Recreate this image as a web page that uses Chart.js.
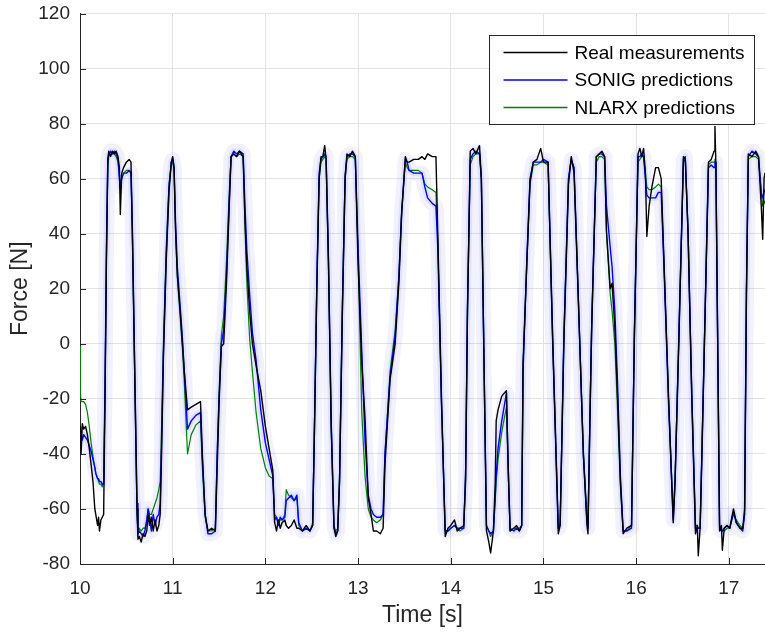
<!DOCTYPE html>
<html>
<head>
<meta charset="utf-8">
<script src="https://cdn.jsdelivr.net/npm/chart.js@4.4.1/dist/chart.umd.min.js"></script>
<style>
  html, body { margin: 0; padding: 0; background: #fff; }
  #wrap { width: 765px; height: 634px; position: relative; }
</style>
</head>
<body>
<div id="wrap"><canvas id="force"></canvas></div>
<script>
// time axis [s], shared by the three traces
var time = [
  10.000, 10.005, 10.012, 10.025, 10.040, 10.060, 10.080, 10.100, 10.120, 10.140,
  10.160, 10.170, 10.190, 10.200, 10.210, 10.225, 10.240, 10.255, 10.270, 10.285,
  10.300, 10.310, 10.330, 10.350, 10.370, 10.390, 10.410, 10.425, 10.435, 10.450,
  10.470, 10.500, 10.530, 10.550, 10.565, 10.590, 10.615, 10.625, 10.640, 10.660,
  10.680, 10.700, 10.720, 10.735, 10.750, 10.770, 10.790, 10.810, 10.830, 10.850,
  10.865, 10.880, 10.900, 10.930, 10.960, 10.985, 11.000, 11.015, 11.030, 11.050,
  11.080, 11.105, 11.125, 11.160, 11.200, 11.250, 11.300, 11.320, 11.350, 11.380,
  11.420, 11.460, 11.480, 11.500, 11.525, 11.550, 11.580, 11.610, 11.630, 11.660,
  11.690, 11.720, 11.760, 11.780, 11.800, 11.830, 11.860, 11.900, 11.950, 12.000,
  12.040, 12.080, 12.100, 12.120, 12.140, 12.160, 12.180, 12.210, 12.225, 12.250,
  12.280, 12.310, 12.340, 12.360, 12.400, 12.440, 12.480, 12.510, 12.530, 12.555,
  12.580, 12.600, 12.620, 12.640, 12.655, 12.680, 12.710, 12.740, 12.760, 12.780,
  12.800, 12.830, 12.860, 12.880, 12.910, 12.940, 12.970, 13.000, 13.040, 13.075,
  13.110, 13.140, 13.165, 13.200, 13.240, 13.270, 13.290, 13.345, 13.400, 13.440,
  13.470, 13.510, 13.530, 13.550, 13.600, 13.650, 13.690, 13.720, 13.750, 13.800,
  13.840, 13.860, 13.900, 13.940, 13.970, 14.000, 14.040, 14.070, 14.100, 14.140,
  14.160, 14.180, 14.210, 14.240, 14.270, 14.310, 14.330, 14.360, 14.385, 14.410,
  14.430, 14.460, 14.480, 14.490, 14.510, 14.550, 14.600, 14.620, 14.640, 14.680,
  14.710, 14.740, 14.765, 14.780, 14.820, 14.855, 14.890, 14.930, 14.970, 15.000,
  15.050, 15.100, 15.160, 15.180, 15.220, 15.270, 15.300, 15.330, 15.375, 15.430,
  15.470, 15.480, 15.500, 15.520, 15.570, 15.600, 15.630, 15.660, 15.680, 15.720,
  15.740, 15.770, 15.800, 15.830, 15.860, 15.900, 15.950, 15.980, 16.020, 16.040,
  16.060, 16.080, 16.100, 16.115, 16.140, 16.170, 16.210, 16.240, 16.270, 16.300,
  16.350, 16.400, 16.420, 16.460, 16.510, 16.530, 16.560, 16.600, 16.640, 16.660,
  16.670, 16.690, 16.710, 16.780, 16.810, 16.840, 16.850, 16.860, 16.900, 16.920,
  16.930, 16.950, 16.980, 17.010, 17.050, 17.080, 17.120, 17.150, 17.170, 17.190,
  17.210, 17.250, 17.290, 17.320, 17.350, 17.365, 17.380, 17.390
];

// Real measurements [N]
var realForce = [
  -38, -30, -40, -29, -31, -30, -33, -38, -44, -50,
  -60, -62, -66, -63, -68, -64, -63, -62, -20, 30,
  66, 70, 68, 70, 69, 70, 68, 64, 47, 62,
  64, 66, 67, 66, 40, -10, -60, -71, -70, -72,
  -69, -70, -68, -62, -66, -63, -68, -64, -68, -66,
  -62, -40, -5, 30, 55, 66, 68, 64, 42, 25,
  12, 0, -10, -24, -23, -22, -21, -40, -62, -68,
  -67, -68, -45, -22, -1, 0, 22, 50, 68, 69,
  68, 70, 68, 45, 28, 12, 0, -8, -17, -30,
  -38, -46, -65, -68, -64, -67, -65, -64, -66, -67,
  -66, -64, -67, -67, -68, -66, -68, -66, -30, 20,
  60, 68, 68, 72, 67, 30, -30, -67, -70, -68,
  -50, 10, 60, 69, 68, 70, 68, 29, -7, -27,
  -56, -62, -68, -68, -69, -67, -44, -13, 0, 22,
  47, 68, 66, 66, 67, 67, 68, 67, 69, 68,
  68, 40, -20, -70, -67, -66, -64, -68, -67, -66,
  -50, 10, 70, 71, 69, 72, 60, -10, -68, -72,
  -76, -68, -50, -28, -24, -19, -17, -45, -68, -67,
  -66, -68, -66, -7, 29, 59, 66, 67, 71, 66,
  66, 0, -69, -66, 0, 58, 68, 62, 17, -40,
  -66, -69, -30, 5, 68, 69, 70, 68, 41, 20,
  22, 6, -20, -50, -69, -67, -66, 0, 69, 71,
  68, 71, 62, 39, 50, 57, 64, 64, 60, 30,
  -20, -65, -50, 0, 68, 67, 40, -20, -69, -66,
  -77, -67, -40, 66, 67, 70, 79, 65, -68, -66,
  -75, -67, -66, -67, -60, -65, -67, -67, -60, 20,
  69, 68, 70, 68, 50, 38, 60, 62
];

// SONIG predictions [N]
var sonigForce = [
  -34, -36, -33, -35, -33, -34, -35, -37, -39, -42,
  -45, -47, -49, -49, -50, -50, -51, -51, -15, 35,
  67, 69, 70, 69, 70, 69, 67, 60, 57, 60,
  62, 62, 63, 62, 42, -8, -58, -69, -68, -69,
  -70, -68, -64, -60, -63, -68, -62, -66, -63, -62,
  -58, -36, -3, 32, 57, 66, 67, 64, 45, 28,
  14, 2, -10, -31, -28, -26, -25, -42, -62, -69,
  -69, -68, -40, -20, 0, 5, 25, 52, 68, 70,
  69, 70, 69, 50, 34, 18, 4, -6, -24, -36,
  -42, -48, -64, -63, -66, -63, -64, -63, -57, -56,
  -55, -57, -55, -65, -68, -67, -68, -66, -30, 22,
  62, 67, 68, 69, 68, 32, -28, -66, -69, -68,
  -50, 12, 60, 68, 69, 69, 68, 35, -3, -35,
  -55, -60, -62, -63, -63, -62, -40, -12, 3, 24,
  48, 67, 66, 63, 62, 62, 62, 57, 53, 51,
  50, 35, -22, -68, -68, -67, -66, -67, -67, -67,
  -48, 12, 67, 69, 70, 69, 60, -10, -66, -68,
  -69, -68, -55, -48, -38, -28, -18, -45, -67, -68,
  -67, -68, -66, -10, 30, 60, 66, 66, 66, 67,
  66, 2, -67, -66, 2, 60, 67, 64, 18, -40,
  -65, -67, -30, 6, 68, 69, 69, 68, 50, 35,
  28, 12, -15, -48, -68, -68, -67, 2, 68, 68,
  69, 68, 60, 54, 53, 53, 53, 55, 55, 28,
  -22, -64, -50, 2, 67, 68, 40, -18, -67, -67,
  -67, -67, -38, 64, 65, 64, 66, 66, -66, -68,
  -68, -67, -66, -67, -61, -65, -67, -68, -62, 18,
  68, 70, 69, 68, 55, 53, 55, 56
];

// NLARX predictions [N]
var nlarxForce = [
  -1, -18, -21, -21, -21, -22, -25, -30, -36, -41,
  -45, -47, -49, -50, -51, -51, -52, -50, -18, 30,
  64, 68, 69, 69, 69, 68, 66, 62, 58, 60,
  62, 63, 63, 62, 40, -12, -62, -68, -67, -68,
  -67, -67, -65, -60, -62, -62, -60, -58, -56, -53,
  -50, -30, 0, 35, 58, 65, 66, 63, 42, 24,
  10, -2, -14, -40, -33, -29.5, -28, -45, -63, -68,
  -68, -67, -40, -18, 3, 10, 30, 55, 68, 69,
  68, 69, 68, 42, 22, 2, -10, -25, -38, -45,
  -48, -49, -62, -63, -65, -64, -64, -62, -53, -55,
  -56, -57, -56, -66, -68, -67, -68, -65, -28, 22,
  60, 66, 67, 68, 67, 30, -30, -67, -68, -67,
  -48, 14, 62, 67, 68, 68, 67, 32, -25, -48,
  -60, -63, -64, -65, -64, -62, -40, -10, 5, 25,
  48, 66, 64, 63, 63, 63, 62, 58, 57, 56,
  55, 38, -22, -68, -68, -67, -66, -67, -68, -67,
  -45, 15, 65, 68, 69, 69, 60, -10, -66, -68,
  -70, -68, -57, -50, -42, -32, -23, -48, -68, -67,
  -67, -67, -66, -8, 28, 58, 65, 65, 66, 66,
  65, 0, -67, -65, 3, 60, 67, 64, 18, -38,
  -64, -65, -28, 8, 66, 68, 68, 67, 40, 18,
  12, 0, -25, -52, -68, -68, -66, 4, 66, 67,
  68, 68, 62, 57, 56, 56, 57, 58, 57, 30,
  -20, -63, -48, 2, 66, 67, 42, -18, -66, -66,
  -67, -67, -38, 65, 66, 66, 67, 66, -67, -68,
  -68, -68, -67, -67, -62, -64, -66, -67, -62, 20,
  67, 68, 68, 67, 55, 50, 51, 52
];

var xTicks = [10, 11, 12, 13, 14, 15, 16, 17];

function pts(vals) {
  return time.map(function (t, i) { return { x: t, y: vals[i] }; });
}

var fontFam = '"Liberation Sans", Arial, Helvetica, sans-serif';
var axisCol = '#262626';

// small inward tick marks like the original axes
var innerTicks = {
  id: 'innerTicks',
  afterDraw: function (chart) {
    var c = chart.ctx, a = chart.chartArea;
    var sx = chart.scales.x, sy = chart.scales.y;
    c.save();
    c.strokeStyle = axisCol;
    c.lineWidth = 1;
    c.beginPath();
    sx.ticks.forEach(function (t) {
      var px = Math.round(sx.getPixelForValue(t.value)) + 0.5;
      c.moveTo(px, a.bottom); c.lineTo(px, a.bottom - 6);
    });
    sy.ticks.forEach(function (t) {
      var py = Math.round(sy.getPixelForValue(t.value)) + 0.5;
      c.moveTo(a.left, py); c.lineTo(a.left + 6, py);
    });
    c.stroke();
    c.restore();
  }
};

// boxed legend in the upper right corner
var boxLegend = {
  id: 'boxLegend',
  afterDraw: function (chart) {
    var c = chart.ctx, a = chart.chartArea;
    var items = chart.data.datasets.filter(function (d) { return d.inLegend; });
    c.save();
    c.font = '19px ' + fontFam;
    var w = 0;
    items.forEach(function (d) { w = Math.max(w, c.measureText(d.label).width); });
    var rowH = 27.5, boxW = 14 + 64 + 7 + w + 10, boxH = 34 + rowH * (items.length - 1);
    var x = Math.round(a.right - 11 - boxW) + 0.5, y = Math.round(a.top + 21.5) + 0.5;
    c.fillStyle = '#fff';
    c.fillRect(x, y, boxW, boxH);
    c.strokeStyle = '#262626';
    c.lineWidth = 1;
    c.strokeRect(x, y, boxW, boxH);
    items.forEach(function (d, i) {
      var ry = y + 17 + rowH * i;
      c.strokeStyle = d.borderColor;
      c.lineWidth = 1.4;
      c.beginPath();
      c.moveTo(x + 14, ry); c.lineTo(x + 78, ry);
      c.stroke();
      c.fillStyle = '#000';
      c.textBaseline = 'middle';
      c.fillText(d.label, x + 85, ry + 1);
    });
    c.restore();
  }
};

var ctx = document.getElementById('force').getContext('2d');
var forceChart = new Chart(ctx, {
  type: 'line',
  data: {
    datasets: [{
        label: 'Real measurements',
        inLegend: true,
        data: pts(realForce),
        borderColor: '#000000',
        borderWidth: 1.4
      },
      {
        label: 'SONIG predictions',
        inLegend: true,
        data: pts(sonigForce),
        borderColor: '#0000ff',
        borderWidth: 1.4
      },
      {
        label: 'NLARX predictions',
        inLegend: true,
        data: pts(nlarxForce),
        borderColor: '#008000',
        borderWidth: 1.2
      },
      {
        // uncertainty shade around the SONIG prediction
        label: 'SONIG band',
        data: pts(sonigForce),
        borderColor: 'rgba(60, 60, 255, 0.09)',
        borderWidth: 6
      },
      {
        label: 'SONIG band wide',
        data: pts(sonigForce),
        borderColor: 'rgba(60, 60, 255, 0.07)',
        borderWidth: 15
      }
    ]
  },
  options: {
    responsive: true,
    maintainAspectRatio: false,
    animation: false,
    layout: { padding: 0 },
    elements: {
      point: { radius: 0 },
      line: { tension: 0, fill: false, borderJoinStyle: 'round', borderCapStyle: 'round' }
    },
    plugins: {
      legend: { display: false },
      tooltip: { enabled: false }
    },
    scales: {
      x: {
        type: 'linear',
        min: 10,
        max: 17.39,
        afterBuildTicks: function (scale) {
          scale.ticks = xTicks.map(function (v) { return { value: v }; });
        },
        afterFit: function (scale) { scale.height = 70; },
        grid: { color: '#e3e3e3', drawTicks: false },
        border: { color: axisCol, width: 1 },
        ticks: { color: axisCol, padding: 13, font: { family: fontFam, size: 19 }, maxRotation: 0 },
        title: { display: true, text: 'Time [s]', color: axisCol, padding: { top: 0, bottom: 5 }, font: { family: fontFam, size: 23 } }
      },
      y: {
        min: -80,
        max: 120,
        afterFit: function (scale) {
          scale.width = 80;
          scale.paddingTop = 13.5;
          scale.paddingBottom = 0;
        },
        grid: { color: '#e3e3e3', drawTicks: false },
        border: { color: axisCol, width: 1 },
        ticks: { stepSize: 20, color: axisCol, padding: 10, font: { family: fontFam, size: 19 } },
        title: { display: true, text: 'Force [N]', color: axisCol, padding: { top: 7, bottom: 0 }, font: { family: fontFam, size: 23 } }
      }
    }
  },
  plugins: [innerTicks, boxLegend]
});
</script>
</body>
</html>
